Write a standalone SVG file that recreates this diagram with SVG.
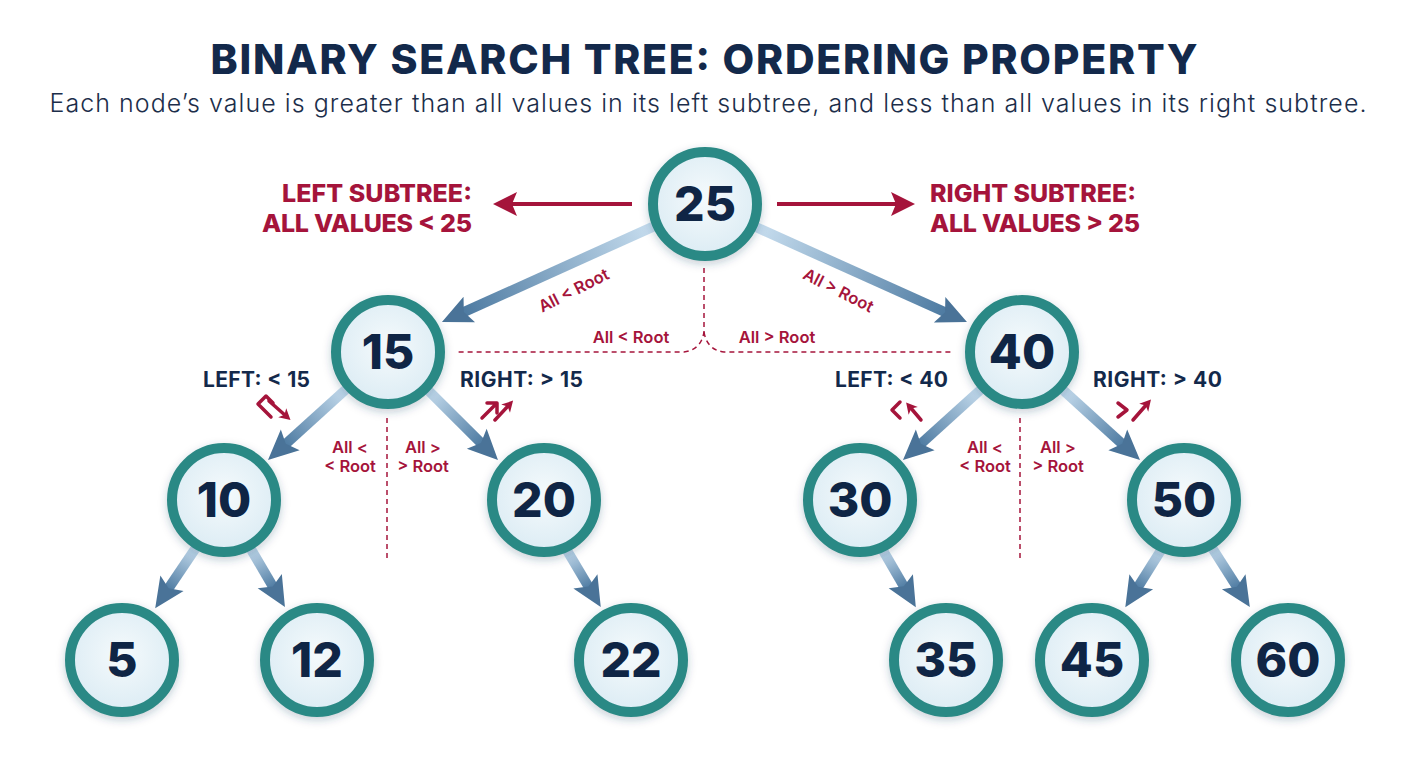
<svg xmlns="http://www.w3.org/2000/svg" width="1408" height="768" viewBox="0 0 1408 768">
<defs>
<style>
.title{font-family:Inter,"Noto Sans","Liberation Sans",sans-serif;font-weight:800;font-size:41px;fill:#13294b;text-anchor:middle}
.sub{font-family:Inter,"Noto Sans","Liberation Sans",sans-serif;font-weight:300;font-size:25px;fill:#1c2e4a;text-anchor:middle}
.big{font-family:Inter,"Noto Sans","Liberation Sans",sans-serif;font-weight:800;font-size:25px;fill:#a5143b}
.nav{font-family:Inter,"Noto Sans","Liberation Sans",sans-serif;font-weight:700;font-size:21px;fill:#13294b}
.sm{font-family:Inter,"Noto Sans","Liberation Sans",sans-serif;font-weight:600;font-size:16.5px;fill:#a5143b;text-anchor:middle}
.num{font-family:Inter,"Noto Sans","Liberation Sans",sans-serif;font-weight:800;font-size:48px;fill:#0f2545;text-anchor:middle}
.ring{fill:url(#nodeFill);stroke:#2c8985;stroke-width:10;filter:url(#shadow)}
.edge{fill:none;stroke-width:10;marker-end:url(#blueHead)}
.dash{fill:none;stroke:#a5143b;stroke-width:1.5;stroke-dasharray:5 4}
.redline{fill:none;stroke:#a5143b;stroke-width:4;marker-end:url(#redHead)}
.ic{fill:none;stroke:#a5143b;stroke-width:3.5;stroke-linecap:round;stroke-linejoin:round}
</style>
<radialGradient id="nodeFill" cx="50%" cy="45%" r="55%">
<stop offset="0" stop-color="#f5fafc"/>
<stop offset="1" stop-color="#dcecf4"/>
</radialGradient>
<filter id="shadow" x="-30%" y="-30%" width="160%" height="160%">
<feDropShadow dx="0" dy="3" stdDeviation="4" flood-color="#1a3a5a" flood-opacity="0.25"/>
</filter>
<marker id="blueHead" viewBox="-10 -16 34 32" refX="0" refY="0" markerWidth="34" markerHeight="32" markerUnits="userSpaceOnUse" orient="auto">
<path d="M22,0 L-8,-14 L-2,0 L-8,14 Z" fill="#4a7398"/>
</marker>
<marker id="redHead" viewBox="-10 -14 30 28" refX="0" refY="0" markerWidth="30" markerHeight="28" markerUnits="userSpaceOnUse" orient="auto">
<path d="M18,0 L-6,-12 L-1,0 L-6,12 Z" fill="#a5143b"/>
</marker>
<marker id="smallRed" viewBox="-7 -7 14 14" refX="0" refY="0" markerWidth="14" markerHeight="14" markerUnits="userSpaceOnUse" orient="auto">
<path d="M6,0 L-5,-6 L-2,0 L-5,6 Z" fill="#a5143b"/>
</marker>
<linearGradient id="g1" gradientUnits="userSpaceOnUse" x1="655.5" y1="225.6" x2="462" y2="312.9"><stop offset="0" stop-color="#c9dff0"/><stop offset="1" stop-color="#4d7aa1"/></linearGradient>
<linearGradient id="g2" gradientUnits="userSpaceOnUse" x1="754.2" y1="226.3" x2="946.9" y2="313"><stop offset="0" stop-color="#c9dff0"/><stop offset="1" stop-color="#4d7aa1"/></linearGradient>
<linearGradient id="g3" gradientUnits="userSpaceOnUse" x1="347.6" y1="387.9" x2="284.3" y2="445.2"><stop offset="0" stop-color="#c9dff0"/><stop offset="1" stop-color="#4d7aa1"/></linearGradient>
<linearGradient id="g4" gradientUnits="userSpaceOnUse" x1="427.1" y1="389.2" x2="482.4" y2="444.4"><stop offset="0" stop-color="#c9dff0"/><stop offset="1" stop-color="#4d7aa1"/></linearGradient>
<linearGradient id="g5" gradientUnits="userSpaceOnUse" x1="982.1" y1="388.4" x2="919.3" y2="445.2"><stop offset="0" stop-color="#c9dff0"/><stop offset="1" stop-color="#4d7aa1"/></linearGradient>
<linearGradient id="g6" gradientUnits="userSpaceOnUse" x1="1061.6" y1="388.8" x2="1123.7" y2="445.2"><stop offset="0" stop-color="#c9dff0"/><stop offset="1" stop-color="#4d7aa1"/></linearGradient>
<linearGradient id="g7" gradientUnits="userSpaceOnUse" x1="196.7" y1="546.6" x2="167.5" y2="589.9"><stop offset="0" stop-color="#c9dff0"/><stop offset="1" stop-color="#4d7aa1"/></linearGradient>
<linearGradient id="g8" gradientUnits="userSpaceOnUse" x1="249.9" y1="547.4" x2="273.8" y2="588.1"><stop offset="0" stop-color="#c9dff0"/><stop offset="1" stop-color="#4d7aa1"/></linearGradient>
<linearGradient id="g9" gradientUnits="userSpaceOnUse" x1="566.3" y1="549.2" x2="589.5" y2="588.2"><stop offset="0" stop-color="#c9dff0"/><stop offset="1" stop-color="#4d7aa1"/></linearGradient>
<linearGradient id="g10" gradientUnits="userSpaceOnUse" x1="882.3" y1="549.2" x2="904.8" y2="588.1"><stop offset="0" stop-color="#c9dff0"/><stop offset="1" stop-color="#4d7aa1"/></linearGradient>
<linearGradient id="g11" gradientUnits="userSpaceOnUse" x1="1161.7" y1="549.2" x2="1137" y2="588.5"><stop offset="0" stop-color="#c9dff0"/><stop offset="1" stop-color="#4d7aa1"/></linearGradient>
<linearGradient id="g12" gradientUnits="userSpaceOnUse" x1="1211.3" y1="546.6" x2="1238" y2="588.5"><stop offset="0" stop-color="#c9dff0"/><stop offset="1" stop-color="#4d7aa1"/></linearGradient>
</defs>
<rect width="1408" height="768" fill="#ffffff"/>

<g id="title">
<text class="title" x="704" y="74" textLength="987">BINARY SEARCH TREE: ORDERING PROPERTY</text>
<text class="sub" x="708" y="112" textLength="1317">Each node’s value is greater than all values in its left subtree, and less than all values in its right subtree.</text>
</g>

<g id="connectors">
<line class="edge" stroke="url(#g1)" x1="655.5" y1="225.6" x2="462" y2="312.9"/>
<line class="edge" stroke="url(#g2)" x1="754.2" y1="226.3" x2="946.9" y2="313"/>
<line class="edge" stroke="url(#g3)" x1="347.6" y1="387.9" x2="284.3" y2="445.2"/>
<line class="edge" stroke="url(#g4)" x1="427.1" y1="389.2" x2="482.4" y2="444.4"/>
<line class="edge" stroke="url(#g5)" x1="982.1" y1="388.4" x2="919.3" y2="445.2"/>
<line class="edge" stroke="url(#g6)" x1="1061.6" y1="388.8" x2="1123.7" y2="445.2"/>
<line class="edge" stroke="url(#g7)" x1="196.7" y1="546.6" x2="167.5" y2="589.9"/>
<line class="edge" stroke="url(#g8)" x1="249.9" y1="547.4" x2="273.8" y2="588.1"/>
<line class="edge" stroke="url(#g9)" x1="566.3" y1="549.2" x2="589.5" y2="588.2"/>
<line class="edge" stroke="url(#g10)" x1="882.3" y1="549.2" x2="904.8" y2="588.1"/>
<line class="edge" stroke="url(#g11)" x1="1161.7" y1="549.2" x2="1137" y2="588.5"/>
<line class="edge" stroke="url(#g12)" x1="1211.3" y1="546.6" x2="1238" y2="588.5"/>
<line class="redline" x1="632" y1="204" x2="511" y2="204"/>
<line class="redline" x1="777" y1="204" x2="897" y2="204"/>
<path class="dash" d="M704,268 V332 Q701,350 684,352 H457"/>
<path class="dash" d="M704,332 Q707,350 724,352 H952"/>
<line class="dash" x1="387" y1="418" x2="387" y2="562"/>
<line class="dash" x1="1020" y1="418" x2="1020" y2="562"/>
</g>

<g id="labels">
<text class="big" x="472" y="202" text-anchor="end" textLength="190">LEFT SUBTREE:</text>
<text class="big" x="472" y="232" text-anchor="end" textLength="210">ALL VALUES &lt; 25</text>
<text class="big" x="930" y="202" textLength="206">RIGHT SUBTREE:</text>
<text class="big" x="930" y="232" textLength="210">ALL VALUES &gt; 25</text>
<text class="sm" transform="translate(574,291) rotate(-27)" x="0" y="5" font-size="17.5">All &lt; Root</text>
<text class="sm" transform="translate(838,291) rotate(27)" x="0" y="5" font-size="17.5">All &gt; Root</text>
<text class="sm" x="631" y="343" font-size="17.5">All &lt; Root</text>
<text class="sm" x="777" y="343" font-size="17.5">All &gt; Root</text>
<text class="nav" x="203" y="387" textLength="107">LEFT: &lt; 15</text>
<text class="nav" x="460" y="387" textLength="123">RIGHT: &gt; 15</text>
<text class="nav" x="835" y="387" textLength="113">LEFT: &lt; 40</text>
<text class="nav" x="1093" y="387" textLength="129">RIGHT: &gt; 40</text>
<text class="sm" x="350" y="453">All &lt;</text>
<text class="sm" x="350" y="472">&lt; Root</text>
<text class="sm" x="423" y="453">All &gt;</text>
<text class="sm" x="423" y="472">&gt; Root</text>
<text class="sm" x="985" y="453">All &lt;</text>
<text class="sm" x="985" y="472">&lt; Root</text>
<text class="sm" x="1058" y="453">All &gt;</text>
<text class="sm" x="1058" y="472">&gt; Root</text>
</g>

<g id="icons">
<path class="ic" d="M273,403 L266,396 L258,404 L271,417"/>
<line class="ic" x1="269" y1="401" x2="286" y2="416" marker-end="url(#smallRed)"/>
<path class="ic" d="M482,418 L496,404 M487,403 L497,403 L497,413"/>
<line class="ic" x1="495" y1="420" x2="509" y2="405" marker-end="url(#smallRed)"/>
<path class="ic" d="M900,402 L892,410 L900,418"/>
<line class="ic" x1="921" y1="420" x2="910" y2="407" marker-end="url(#smallRed)"/>
<path class="ic" d="M1118,403 L1127,410 L1118,417"/>
<line class="ic" x1="1133" y1="420" x2="1147" y2="404" marker-end="url(#smallRed)"/>
</g>

<g id="node-25"><circle class="ring" cx="705" cy="204" r="52"/><text class="num" x="705" y="221">25</text></g>
<g id="node-15"><circle class="ring" cx="388" cy="352" r="52"/><text class="num" x="388" y="369">15</text></g>
<g id="node-40"><circle class="ring" cx="1022" cy="352" r="52"/><text class="num" x="1022" y="369">40</text></g>
<g id="node-10"><circle class="ring" cx="224" cy="500" r="52"/><text class="num" x="224" y="517">10</text></g>
<g id="node-20"><circle class="ring" cx="544" cy="500" r="52"/><text class="num" x="544" y="517">20</text></g>
<g id="node-30"><circle class="ring" cx="860" cy="500" r="52"/><text class="num" x="860" y="517">30</text></g>
<g id="node-50"><circle class="ring" cx="1184" cy="500" r="52"/><text class="num" x="1184" y="517">50</text></g>
<g id="node-5"><circle class="ring" cx="122" cy="660" r="52"/><text class="num" x="122" y="677">5</text></g>
<g id="node-12"><circle class="ring" cx="317" cy="660" r="52"/><text class="num" x="317" y="677">12</text></g>
<g id="node-22"><circle class="ring" cx="631" cy="660" r="52"/><text class="num" x="631" y="677">22</text></g>
<g id="node-35"><circle class="ring" cx="946" cy="660" r="52"/><text class="num" x="946" y="677">35</text></g>
<g id="node-45"><circle class="ring" cx="1092" cy="660" r="52"/><text class="num" x="1092" y="677">45</text></g>
<g id="node-60"><circle class="ring" cx="1288" cy="660" r="52"/><text class="num" x="1288" y="677">60</text></g>
</svg>
